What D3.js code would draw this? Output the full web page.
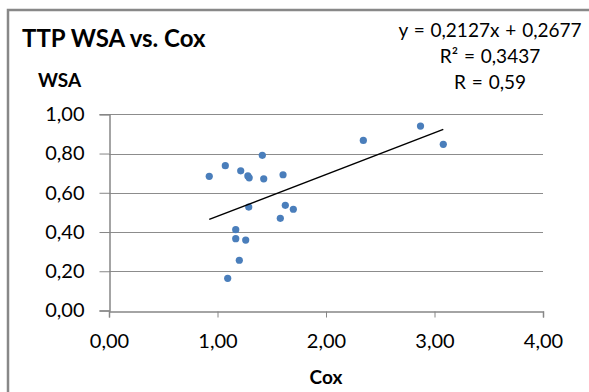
<!DOCTYPE html>
<html>
<head>
<meta charset="utf-8">
<script src="https://cdn.jsdelivr.net/npm/d3@7"></script>
<style>
  html, body { margin: 0; padding: 0; background: #fff; }
  svg { display: block; }
  text { font-family: Lato, "Open Sans", sans-serif; fill: #000; }
</style>
</head>
<body>
<svg id="chart" width="589" height="392"></svg>
<script>
// Cox vs. WSA measurements (TTP)
const coxValues = [0.924, 1.072, 1.214, 1.280, 1.292, 1.413, 1.426, 1.604, 1.288, 1.625,
                   1.699, 1.579, 1.168, 1.168, 1.260, 1.201, 1.094, 2.344, 2.871, 3.081];
const wsaValues = [0.684, 0.738, 0.712, 0.686, 0.676, 0.791, 0.671, 0.692, 0.527, 0.536,
                   0.516, 0.470, 0.412, 0.366, 0.359, 0.256, 0.164, 0.867, 0.940, 0.847];

// Linear trendline and its stated fit
const slope = 0.2127;
const intercept = 0.2677;
const trendLabels = ["y = 0,2127x + 0,2677", "R² = 0,3437", "R = 0,59"];

const xTicks = [0, 1, 2, 3, 4];
const yTicks = [0, 0.2, 0.4, 0.6, 0.8, 1.0];

const svg = d3.select("#chart");
const fmt = v => d3.format(".2f")(v).replace(".", ",");

const x = d3.scaleLinear().domain([0, 4]).range([109, 543]);
const y = d3.scaleLinear().domain([0, 1]).range([310.5, 114.3]);

// Chart frame (runs past the right and bottom edges)
svg.append("rect")
  .attr("x", 8).attr("y", 10)
  .attr("width", 620).attr("height", 420)
  .attr("fill", "none").attr("stroke", "#888").attr("stroke-width", 2.5);

// Horizontal gridlines
svg.append("g").selectAll("line")
  .data(yTicks.filter(d => d > 0))
  .join("line")
  .attr("x1", x(0)).attr("x2", x(4))
  .attr("y1", d => Math.round(y(d)) + 0.5).attr("y2", d => Math.round(y(d)) + 0.5)
  .attr("stroke", "#8c8c8c").attr("stroke-width", 1);

// Y axis
const yAxis = svg.append("g")
  .attr("transform", `translate(${Math.round(x(0)) + 0.5},0)`)
  .call(d3.axisLeft(y).tickValues(yTicks).tickFormat(fmt).tickSize(10).tickPadding(15));
yAxis.select(".domain").attr("stroke", "#868686").attr("stroke-width", 1.5);
yAxis.selectAll(".tick line").attr("stroke", "#868686");
yAxis.selectAll(".tick text")
  .attr("font-size", 20).attr("font-family", "Lato, sans-serif").attr("fill", "#000");

// X axis
const xAxis = svg.append("g")
  .attr("transform", `translate(0,${Math.round(y(0)) + 0.5})`)
  .call(d3.axisBottom(x).tickValues(xTicks).tickFormat(fmt).tickSize(6).tickPadding(16));
xAxis.select(".domain").attr("stroke", "#868686").attr("stroke-width", 1.5);
xAxis.selectAll(".tick line").attr("stroke", "#868686");
xAxis.selectAll(".tick text")
  .attr("font-size", 20).attr("font-family", "Lato, sans-serif").attr("fill", "#000");

// Data points
svg.append("g").selectAll("circle")
  .data(coxValues.map((c, i) => [c, wsaValues[i]]))
  .join("circle")
  .attr("cx", d => x(d[0])).attr("cy", d => y(d[1]))
  .attr("r", 3.6)
  .attr("fill", "#4a7ebb");

// Trendline across the observed Cox range
const [xMin, xMax] = d3.extent(coxValues);
svg.append("line")
  .attr("x1", x(xMin)).attr("y1", y(slope * xMin + intercept))
  .attr("x2", x(xMax)).attr("y2", y(slope * xMax + intercept))
  .attr("stroke", "#000").attr("stroke-width", 1.5);

// Title and axis titles
svg.append("text")
  .attr("x", 22).attr("y", 47)
  .attr("font-size", 24).attr("font-weight", "bold")
  .text("TTP WSA vs. Cox");

svg.append("text")
  .attr("x", 38).attr("y", 87)
  .attr("font-size", 19).attr("font-weight", "bold")
  .text("WSA");

svg.append("text")
  .attr("x", 326).attr("y", 384)
  .attr("text-anchor", "middle")
  .attr("font-size", 19).attr("font-weight", "bold")
  .text("Cox");

// Trendline equation and fit statistics
svg.append("g").selectAll("text")
  .data(trendLabels)
  .join("text")
  .attr("x", 490).attr("y", (d, i) => 37 + i * 26)
  .attr("text-anchor", "middle")
  .attr("font-size", 19)
  .attr("word-spacing", 1)
  .text(d => d);
</script>
</body>
</html>
